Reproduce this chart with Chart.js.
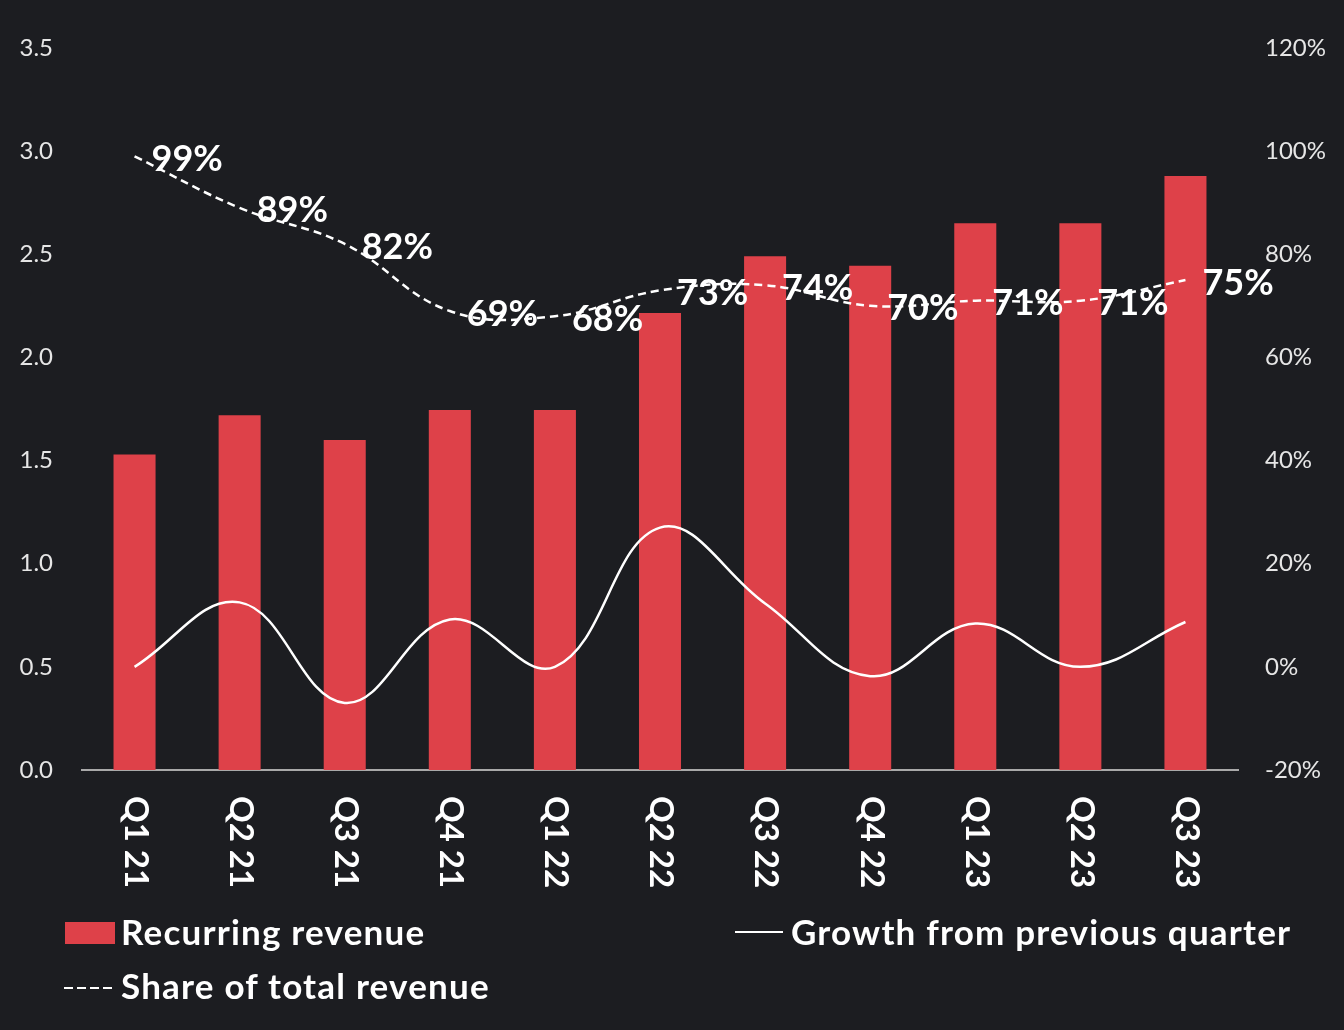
<!DOCTYPE html>
<html>
<head>
<meta charset="utf-8">
<script src="https://cdn.jsdelivr.net/npm/chart.js@4/dist/chart.umd.min.js"></script>
<style>
  html, body { margin:0; padding:0; background:#1c1d21; }
  #wrap { position:relative; width:1344px; height:1030px; background:#1c1d21; overflow:hidden; }
  canvas { position:absolute; left:0; top:0; }
  .lg { position:absolute; font-family:Lato, "Open Sans", sans-serif; font-weight:700; font-size:35px; letter-spacing:1.2px; color:#ffffff; line-height:40px; white-space:nowrap; }
  .sw { position:absolute; }
</style>
</head>
<body>
<div id="wrap">
  <canvas id="c" width="1344" height="1030"></canvas>
  <div class="sw" style="left:65px;top:922px;width:50px;height:22px;background:#de4149;"></div>
  <div class="lg" id="lg1" style="left:121px;top:911px;">Recurring revenue</div>
  <div class="sw" style="left:735px;top:931px;width:48px;height:2px;background:#fff;"></div>
  <div class="lg" id="lg2" style="left:791px;top:911px;">Growth from previous quarter</div>
  <div class="sw" style="left:64px;top:987px;width:50px;height:2px;background:repeating-linear-gradient(to right,#fff 0,#fff 9px,transparent 9px,transparent 13px);"></div>
  <div class="lg" id="lg3" style="left:121px;top:965px;">Share of total revenue</div>
</div>
<script>
const categories = ["Q1 21","Q2 21","Q3 21","Q4 21","Q1 22","Q2 22","Q3 22","Q4 22","Q1 23","Q2 23","Q3 23"];
const recurringRevenue = [1.53, 1.72, 1.60, 1.745, 1.745, 2.215, 2.49, 2.445, 2.65, 2.65, 2.88];
const growthPct = [0, 12.5, -7, 9.2, 0, 27, 12.3, -1.8, 8.4, 0, 8.7];
const sharePct = [99, 89, 82, 69, 68, 73, 74, 70, 71, 71, 75];
const shareLabels = ["99%","89%","82%","69%","68%","73%","74%","70%","71%","71%","75%"];
const leftTicks = [0, 0.5, 1.0, 1.5, 2.0, 2.5, 3.0, 3.5];
const rightTicks = [-20, 0, 20, 40, 60, 80, 100, 120];

const FONT = 'Lato, "Open Sans", sans-serif';

const rotatedXLabels = {
  id: 'rotatedXLabels',
  afterDraw(chart) {
    const ctx = chart.ctx;
    const xs = chart.scales.x;
    ctx.save();
    ctx.fillStyle = '#ffffff';
    ctx.font = 'bold 33px ' + FONT;
    ctx.textAlign = 'left';
    ctx.textBaseline = 'middle';
    categories.forEach((c, i) => {
      const x = xs.getPixelForTick(i);
      ctx.save();
      ctx.translate(x + 1, chart.chartArea.bottom + 26);
      ctx.rotate(Math.PI / 2);
      ctx.fillText(c, 0, 0);
      ctx.restore();
    });
    ctx.restore();
  }
};

const shareValueLabels = {
  id: 'shareValueLabels',
  afterDatasetsDraw(chart) {
    const ctx = chart.ctx;
    const meta = chart.getDatasetMeta(2);
    ctx.save();
    ctx.fillStyle = '#ffffff';
    ctx.font = 'bold 36px ' + FONT;
    ctx.textAlign = 'left';
    ctx.textBaseline = 'middle';
    meta.data.forEach((pt, i) => {
      ctx.fillText(shareLabels[i], pt.x + 17, pt.y + 3);
    });
    ctx.restore();
  }
};

new Chart(document.getElementById('c'), {
  data: {
    labels: categories,
    datasets: [
      {
        type: 'bar',
        label: 'Recurring revenue',
        data: recurringRevenue,
        yAxisID: 'y',
        backgroundColor: '#de4149',
        borderWidth: 0,
        categoryPercentage: 1.0,
        barPercentage: 0.4,
        order: 3
      },
      {
        type: 'line',
        label: 'Growth from previous quarter',
        data: growthPct,
        yAxisID: 'y1',
        borderColor: '#ffffff',
        borderWidth: 2.5,
        pointRadius: 0,
        tension: 0.4,
        fill: false,
        order: 1
      },
      {
        type: 'line',
        label: 'Share of total revenue',
        data: sharePct,
        yAxisID: 'y1',
        borderColor: '#ffffff',
        borderWidth: 2.5,
        borderDash: [8, 5],
        pointRadius: 0,
        tension: 0.4,
        fill: false,
        order: 2
      }
    ]
  },
  options: {
    responsive: false,
    animation: false,
    devicePixelRatio: 1,
    layout: { padding: { top: 48, bottom: 0, left: 0, right: 0 } },
    plugins: { legend: { display: false }, tooltip: { enabled: false } },
    scales: {
      x: {
        grid: { display: false, drawTicks: false },
        border: { display: true, color: '#a9a9a9', width: 2 },
        ticks: { display: false },
        afterFit(s) { s.height = 260; }
      },
      y: {
        position: 'left',
        min: 0, max: 3.5,
        grid: { display: false, drawTicks: false },
        border: { display: false },
        afterBuildTicks(s) { s.ticks = leftTicks.map(v => ({ value: v })); },
        ticks: {
          padding: 29,
          color: '#e6e6e6',
          font: { family: FONT, size: 24 },
          callback: v => Number(v).toFixed(1)
        },
        afterFit(s) { s.width = 82; }
      },
      y1: {
        position: 'right',
        min: -20, max: 120,
        grid: { display: false, drawTicks: false },
        border: { display: false },
        afterBuildTicks(s) { s.ticks = rightTicks.map(v => ({ value: v })); },
        ticks: {
          padding: 27,
          color: '#e6e6e6',
          font: { family: FONT, size: 24 },
          callback: v => v + '%'
        },
        afterFit(s) { s.width = 106; }
      }
    }
  },
  plugins: [rotatedXLabels, shareValueLabels]
});
</script>
</body>
</html>
